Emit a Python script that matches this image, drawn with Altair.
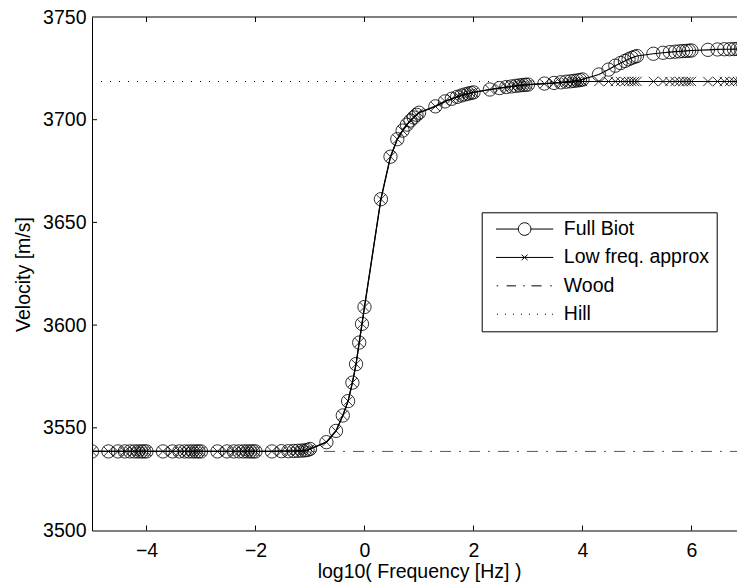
import altair as alt
import pandas as pd

# ---------------- data ----------------
log_freq = [
    -5.0, -4.699, -4.523, -4.398, -4.301, -4.222, -4.155, -4.097, -4.046,
    -4.0, -3.699, -3.523, -3.398, -3.301, -3.222, -3.155, -3.097, -3.046,
    -3.0, -2.699, -2.523, -2.398, -2.301, -2.222, -2.155, -2.097, -2.046,
    -2.0, -1.699, -1.523, -1.398, -1.301, -1.222, -1.155, -1.097, -1.046,
    -1.0, -0.699, -0.523, -0.398, -0.301, -0.222, -0.155, -0.097, -0.046,
    0.0, 0.301, 0.477, 0.602, 0.699, 0.778, 0.845, 0.903, 0.954,
    1.0, 1.301, 1.477, 1.602, 1.699, 1.778, 1.845, 1.903, 1.954,
    2.0, 2.301, 2.477, 2.602, 2.699, 2.778, 2.845, 2.903, 2.954,
    3.0, 3.301, 3.477, 3.602, 3.699, 3.778, 3.845, 3.903, 3.954,
    4.0, 4.301, 4.477, 4.602, 4.699, 4.778, 4.845, 4.903, 4.954,
    5.0, 5.301, 5.477, 5.602, 5.699, 5.778, 5.845, 5.903, 5.954,
    6.0, 6.301, 6.477, 6.602, 6.699, 6.778, 6.845, 6.903, 6.954,
    7.0,
]

full_biot = [
    3538.5, 3538.5, 3538.5, 3538.5, 3538.5, 3538.5, 3538.5, 3538.5, 3538.5,
    3538.5, 3538.5, 3538.5, 3538.5, 3538.5, 3538.5, 3538.5, 3538.5, 3538.5,
    3538.5, 3538.5, 3538.5, 3538.5, 3538.5, 3538.5, 3538.5, 3538.5, 3538.5,
    3538.5, 3538.5, 3538.6, 3538.6, 3538.7, 3538.8, 3538.9, 3539.0, 3539.2,
    3539.7, 3543.0, 3548.5, 3556.0, 3563.0, 3572.0, 3581.0, 3591.5, 3600.6,
    3608.8, 3661.3, 3682.0, 3690.5, 3694.7, 3697.6, 3699.6, 3701.1, 3702.4,
    3703.4, 3706.5, 3708.9, 3710.2, 3711.1, 3711.8, 3712.3, 3712.7, 3713.0,
    3713.3, 3714.7, 3715.4, 3715.9, 3716.2, 3716.5, 3716.7, 3716.9, 3717.0,
    3717.1, 3717.6, 3717.9, 3718.2, 3718.5, 3718.7, 3718.9, 3719.1, 3719.3,
    3719.6, 3722.0, 3724.4, 3726.3, 3727.6, 3728.6, 3729.4, 3730.1, 3730.6,
    3731.0, 3732.1, 3732.6, 3732.9, 3733.1, 3733.3, 3733.4, 3733.5, 3733.6,
    3733.7, 3734.0, 3734.2, 3734.3, 3734.3, 3734.4, 3734.4, 3734.4, 3734.5,
    3734.5,
]

low_freq_approx = [
    3538.5, 3538.5, 3538.5, 3538.5, 3538.5, 3538.5, 3538.5, 3538.5, 3538.5,
    3538.5, 3538.5, 3538.5, 3538.5, 3538.5, 3538.5, 3538.5, 3538.5, 3538.5,
    3538.5, 3538.5, 3538.5, 3538.5, 3538.5, 3538.5, 3538.5, 3538.5, 3538.5,
    3538.5, 3538.5, 3538.6, 3538.6, 3538.7, 3538.8, 3538.9, 3539.0, 3539.2,
    3539.7, 3543.0, 3548.5, 3556.0, 3563.0, 3572.0, 3581.0, 3591.5, 3600.6,
    3608.8, 3661.3, 3682.0, 3690.5, 3694.7, 3697.6, 3699.6, 3701.1, 3702.4,
    3703.4, 3706.5, 3708.9, 3710.2, 3711.1, 3711.8, 3712.3, 3712.7, 3713.0,
    3713.3, 3714.7, 3715.4, 3715.9, 3716.2, 3716.5, 3716.7, 3716.9, 3717.0,
    3717.1, 3717.5, 3717.8, 3718.0, 3718.2, 3718.3, 3718.4, 3718.5, 3718.5,
    3718.6, 3718.6, 3718.6, 3718.6, 3718.6, 3718.6, 3718.6, 3718.6, 3718.6,
    3718.6, 3718.6, 3718.6, 3718.6, 3718.6, 3718.6, 3718.6, 3718.6, 3718.6,
    3718.6, 3718.6, 3718.6, 3718.6, 3718.6, 3718.6, 3718.6, 3718.6, 3718.6,
    3718.6,
]

wood_velocity = 3538.5
hill_velocity = 3718.6
line_ends = [-5.0, 7.0]

x_tick_values = [-4, -2, 0, 2, 4, 6]
y_tick_values = [3500, 3550, 3600, 3650, 3700, 3750]
y_inner_ticks = [3550, 3600, 3650, 3700]
series_names = ["Full Biot", "Low freq. approx", "Wood", "Hill"]

# ---------------- layout / style ----------------
W, H = 645, 513.5
FONT = "Liberation Sans"
FS = 19.5

biot_df = pd.DataFrame({"x": log_freq, "y": full_biot})
low_df = pd.DataFrame({"x": log_freq, "y": low_freq_approx})
wood_df = pd.DataFrame({"x": line_ends, "y": [wood_velocity] * 2})
hill_df = pd.DataFrame({"x": line_ends, "y": [hill_velocity] * 2})
xt_df = pd.DataFrame({"x": x_tick_values})
yt_df = pd.DataFrame({"y": y_inner_ticks})

xs = alt.Scale(domain=[-5, 6.835], nice=False, zero=False)
ys = alt.Scale(domain=[3500, 3750], nice=False, zero=False)

x_axis = alt.Axis(
    values=x_tick_values, ticks=False, grid=False, domain=True,
    domainColor="black", domainWidth=1, labelFlush=False, format="d",
    labelFont=FONT, labelFontSize=FS, labelColor="black",
    labelBaseline="alphabetic", labelPadding=25.5,
    title="log10( Frequency [Hz] )", titleFont=FONT, titleFontSize=FS,
    titleFontWeight="normal", titleColor="black",
    titleBaseline="alphabetic", titleX=327, titleY=47,
)
y_axis = alt.Axis(
    values=y_tick_values, ticks=False, grid=False, domain=True,
    domainColor="black", domainWidth=1, labelFlush=False, format="d",
    labelFont=FONT, labelFontSize=FS, labelColor="black",
    labelPadding=6,
    title="Velocity [m/s]", titleFont=FONT, titleFontSize=FS,
    titleFontWeight="normal", titleColor="black",
    titleBaseline="alphabetic", titleAngle=-90, titleX=-63, titleY=257,
)


def X():
    return alt.X("x:Q", scale=xs, axis=x_axis)


def Y():
    return alt.Y("y:Q", scale=ys, axis=y_axis)


wood = alt.Chart(wood_df).mark_line(
    color="#555555", strokeWidth=1, strokeDash=[11, 8, 2, 8], clip=True
).encode(x=X(), y=Y())

hill = alt.Chart(hill_df).mark_line(
    color="black", strokeWidth=1, strokeDash=[1, 8], clip=True
).encode(x=X(), y=Y())

biot_line = alt.Chart(biot_df).mark_line(
    color="black", strokeWidth=1.2, clip=True
).encode(x=X(), y=Y())
biot_pts = alt.Chart(biot_df).mark_point(
    shape="circle", filled=False, color="black", strokeWidth=0.8,
    size=177, opacity=1, clip=True
).encode(x=X(), y=Y())

low_line = alt.Chart(low_df).mark_line(
    color="black", strokeWidth=1.2, clip=True
).encode(x=X(), y=Y())
low_pts = alt.Chart(low_df).mark_point(
    shape="M-0.7,-0.7L0.7,0.7M-0.7,0.7L0.7,-0.7", filled=False,
    color="black", strokeWidth=0.8, size=177, opacity=1, clip=True
).encode(x=X(), y=Y())

# ---------------- frame: top border and inward ticks ----------------
top_border = alt.Chart(alt.Data(values=[{}])).mark_rule(
    color="black", strokeWidth=1
).encode(x=alt.value(0), x2=alt.value(W), y=alt.value(0))

x_ticks_bottom = alt.Chart(xt_df).mark_rule(color="black", strokeWidth=1).encode(
    x=X(), y=alt.value(H - 5), y2=alt.value(H))
x_ticks_top = alt.Chart(xt_df).mark_rule(color="black", strokeWidth=1).encode(
    x=X(), y=alt.value(0), y2=alt.value(5))
y_ticks_left = alt.Chart(yt_df).mark_rule(color="black", strokeWidth=1).encode(
    y=Y(), x=alt.value(0), x2=alt.value(5))

# ---------------- legend (native, custom symbol paths) ----------------
S = 12.0          # nominal symbol size in px
L0, L1 = -2.5, 54.8
MID = (L0 + L1) / 2
R = 6.3


def u(px):
    return round(px / (S / 2), 4)


def seg(a, b):
    return f"M{u(L0 + a)},0H{u(L0 + b)}"


path_biot = (
    f"M{u(L0)},0H{u(MID - R)}M{u(MID + R)},0H{u(L1)}"
    f"M{u(MID + R)},0A{u(R)},{u(R)} 0 1,1 {u(MID - R)},0"
    f"A{u(R)},{u(R)} 0 1,1 {u(MID + R)},0"
)
path_low = (
    f"M{u(L0)},0H{u(L1)}"
    f"M{u(MID - 3)},{u(-2.7)}L{u(MID + 3)},{u(2.7)}"
    f"M{u(MID - 3)},{u(2.7)}L{u(MID + 3)},{u(-2.7)}"
)
path_wood = "".join(seg(a, b) for a, b in
                    [(0.7, 2.2), (10.6, 20.0), (27.4, 28.9), (35.5, 45.6), (54.3, 55.8)])
path_hill = "".join(seg(p, p + 1.0) for p in [1, 9, 17, 25, 33, 41, 49, 56])

legend_layer = alt.Chart(
    alt.Data(values=[{"series": s} for s in series_names])
).mark_point(opacity=0, filled=False).encode(
    x=alt.value(0), y=alt.value(0),
    shape=alt.Shape(
        "series:N",
        scale=alt.Scale(domain=series_names,
                        range=[path_biot, path_low, path_wood, path_hill]),
        legend=alt.Legend(
            title=None, orient="none", legendX=389.7, legendY=195.3,
            padding=7, strokeColor="black", fillColor="white",
            cornerRadius=0,
            symbolSize=S * S, symbolStrokeWidth=1, symbolStrokeColor="black",
            symbolFillColor="transparent", symbolOpacity=1,
            labelFont=FONT, labelFontSize=FS, labelColor="black",
            labelOffset=55.6, labelLimit=400, rowPadding=7.4,
        ),
    ),
)

chart = alt.layer(
    wood, hill, biot_line, biot_pts, low_line, low_pts,
    top_border, x_ticks_bottom, x_ticks_top, y_ticks_left, legend_layer,
).properties(
    width=W, height=H,
    autosize=alt.AutoSizeParams(type="none"),
    padding={"left": 92, "top": 17, "right": 0, "bottom": 57.5},
    background="white",
).configure_view(stroke=None).configure_legend(strokeWidth=1)

chart.save("out.html", embed_options={"renderer": "svg", "actions": False})
